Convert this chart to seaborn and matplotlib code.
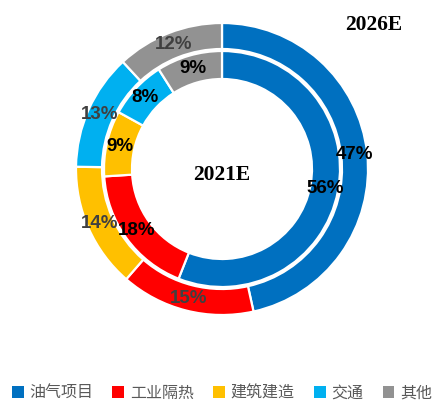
import matplotlib
matplotlib.use("Agg")
import matplotlib.pyplot as plt
import seaborn as sns
from matplotlib.patches import Patch

# ---- data ----
categories = ["油气项目", "工业隔热", "建筑建造", "交通", "其他"]
values_2026 = [47, 15, 14, 13, 12]   # outer ring
values_2021 = [56, 18, 9, 8, 9]      # inner ring
outer_title = "2026E"
inner_title = "2021E"
colors = ["#0070C0", "#FF0000", "#FFC000", "#00B0F0", "#929292"]
outer_label_colors = ["#000000", "#404040", "#404040", "#404040", "#404040"]

sns.set_theme(style="white")
plt.rcParams["font.family"] = ["Noto Sans CJK SC", "DejaVu Sans"]
palette = sns.color_palette(colors)

W, H = 441, 401
fig = plt.figure(figsize=(W / 100, H / 100), dpi=100)
ax = fig.add_axes([0, 0, 1, 1])
ax.axis("off")

R = 146.0   # outer radius in px
cx, cy = 222.0, 169.0  # centre in px (from top-left)

edge = dict(edgecolor="white", linewidth=1.6)

# outer ring
w_out, t_out = ax.pie(values_2026, radius=1.0, colors=palette, startangle=90,
                      counterclock=False,
                      labels=[f"{v}%" for v in values_2026], labeldistance=0.915,
                      wedgeprops=dict(width=26 / R, **edge))
for t, c in zip(t_out, outer_label_colors):
    t.set_ha("center"); t.set_va("center")
    t.set_fontfamily("Liberation Sans"); t.set_fontweight("bold")
    t.set_fontsize(13.5); t.set_color(c)

# inner ring
r_in = 118 / R
w_in, t_in = ax.pie(values_2021, radius=r_in, colors=palette, startangle=90,
                    counterclock=False,
                    labels=[f"{v}%" for v in values_2021], labeldistance=0.89,
                    wedgeprops=dict(width=28 / R, **edge))
for t in t_in:
    t.set_ha("center"); t.set_va("center")
    t.set_fontfamily("Liberation Sans"); t.set_fontweight("bold")
    t.set_fontsize(13.5); t.set_color("black")

ax.set_xlim(-cx / R, (W - cx) / R)
ax.set_ylim(-(H - cy) / R, cy / R)

ax.text(0, -6 / R, inner_title, ha="center", va="center",
        fontfamily="Liberation Serif", fontweight="bold", fontsize=15.5, color="black")
fig.text(374 / W, 1 - 25 / H, outer_title, ha="center", va="center",
         fontfamily="Liberation Serif", fontweight="bold", fontsize=15.5, color="black")

handles = [Patch(facecolor=c, edgecolor="none") for c in palette]
leg = fig.legend(handles, categories, loc="center", bbox_to_anchor=(0.503, 1 - 393 / H),
                 ncol=5, frameon=False, fontsize=11.5, handlelength=0.75, handleheight=0.75,
                 handletextpad=0.35, columnspacing=1.2, borderaxespad=0, borderpad=0)
for t in leg.get_texts():
    t.set_color("#595959")

fig.savefig("out.png", dpi=100)
